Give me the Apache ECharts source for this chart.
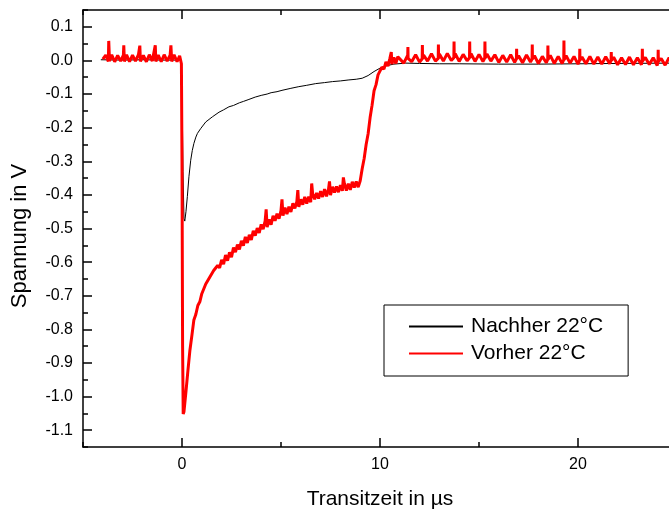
<!DOCTYPE html>
<html>
<head>
<meta charset="utf-8">
<script src="https://cdn.jsdelivr.net/npm/echarts@6/dist/echarts.min.js"></script>
<style>html,body{margin:0;padding:0;background:#fff}#c{width:669px;height:510px}</style>
</head>
<body>
<div id="c"></div>
<script>
const seriesNames = ['Nachher 22°C', 'Vorher 22°C'];
const seriesColors = ['#000000', '#ff0000'];
const xTicks = [0, 10, 20];
const yTicks = [-1.1, -1.0, -0.9, -0.8, -0.7, -0.6, -0.5, -0.4, -0.3, -0.2, -0.1, 0.0, 0.1];

// Nachher 22°C : [t (µs), U (V)]
const nachher = [
  [-4.1,0.002],[-3.0,0.001],[-2.0,0.002],[-1.0,0.001],[-0.05,0.001],[0.0,-0.08],[0.05,-0.33],[0.1,-0.47],[0.14,-0.478],
  [0.2,-0.45],[0.27,-0.405],[0.35,-0.346],[0.44,-0.297],[0.52,-0.268],[0.6,-0.247],[0.7,-0.228],[0.78,-0.217],[0.94,-0.203],
  [1.2,-0.183],[1.53,-0.168],[1.87,-0.154],[2.1,-0.147],[2.37,-0.138],[2.6,-0.134],[2.9,-0.126],[3.1,-0.122],[3.38,-0.116],
  [3.7,-0.109],[4.0,-0.104],[4.3,-0.100],[4.5,-0.096],[4.8,-0.093],[5.05,-0.089],[5.5,-0.083],[5.9,-0.078],[6.3,-0.074],
  [6.75,-0.069],[7.2,-0.066],[7.6,-0.063],[8.0,-0.061],[8.43,-0.058],[8.8,-0.056],[9.1,-0.053],[9.4,-0.045],[9.7,-0.033],
  [10.0,-0.023],[10.3,-0.016],[10.7,-0.011],[11.3,-0.008],[12,-0.009],[13,-0.010],[14,-0.010],[16,-0.011],[18,-0.011],
  [20,-0.010],[22,-0.009],[24.8,-0.008]
];

// Vorher 22°C : [t (µs), U (V)]
const vorher = [
  [-4.0,0.004],[-3.85,0.016],[-3.72,-0.003],[-3.70,0.058],[-3.66,-0.002],[-3.55,0.017],[-3.4,-0.004],[-3.25,0.015],[-3.1,-0.002],
  [-2.96,0.016],[-2.94,0.045],[-2.91,-0.003],[-2.8,0.017],[-2.65,-0.004],[-2.5,0.016],[-2.35,-0.002],[-2.2,0.017],[-2.13,0.044],
  [-2.1,-0.003],[-1.95,0.015],[-1.8,-0.004],[-1.65,0.017],[-1.5,-0.002],[-1.35,0.045],[-1.32,-0.003],[-1.2,0.016],[-1.05,-0.004],
  [-0.9,0.017],[-0.75,-0.002],[-0.6,0.016],[-0.56,0.045],[-0.52,-0.003],[-0.4,0.017],[-0.25,-0.004],[-0.12,0.014],[-0.03,-0.010],
  [0.0,-0.3],[0.03,-0.85],[0.06,-1.052],[0.1,-1.045],[0.2,-0.985],[0.3,-0.922],[0.4,-0.862],[0.5,-0.818],
  [0.6,-0.772],[0.7,-0.755],[0.8,-0.729],[0.9,-0.718],
  [1.0,-0.694],[1.1,-0.691],[1.2,-0.665],[1.3,-0.667],[1.4,-0.645],[1.5,-0.648],[1.6,-0.625],[1.7,-0.630],[1.8,-0.610],[1.9,-0.617],
  [2.0,-0.593],[2.1,-0.606],[2.2,-0.579],[2.3,-0.596],[2.4,-0.571],[2.5,-0.585],[2.6,-0.557],[2.7,-0.570],[2.8,-0.548],[2.9,-0.562],
  [3.0,-0.537],[3.1,-0.551],[3.2,-0.525],[3.3,-0.543],[3.4,-0.519],[3.5,-0.534],[3.6,-0.507],[3.7,-0.521],[3.8,-0.499],[3.9,-0.513],
  [4.0,-0.488],[4.1,-0.502],[4.2,-0.477],[4.25,-0.443],[4.3,-0.496],[4.4,-0.473],[4.5,-0.489],[4.6,-0.462],[4.7,-0.477],[4.8,-0.456],[4.9,-0.471],
  [5.0,-0.447],[5.05,-0.413],[5.1,-0.462],[5.2,-0.438],[5.3,-0.457],[5.4,-0.435],[5.5,-0.451],[5.6,-0.425],[5.7,-0.440],[5.8,-0.420],[5.85,-0.386],[5.9,-0.436],
  [6.0,-0.413],[6.1,-0.429],[6.2,-0.406],[6.3,-0.426],[6.4,-0.405],[6.5,-0.422],[6.55,-0.366],[6.6,-0.397],[6.7,-0.413],[6.8,-0.394],[6.9,-0.411],
  [7.0,-0.389],[7.1,-0.406],[7.2,-0.383],[7.3,-0.404],[7.4,-0.383],[7.45,-0.360],[7.5,-0.401],[7.6,-0.376],[7.7,-0.393],[7.8,-0.375],[7.9,-0.392],
  [8.0,-0.371],[8.1,-0.388],[8.15,-0.348],[8.2,-0.366],[8.3,-0.387],[8.4,-0.367],[8.5,-0.385],[8.6,-0.361],[8.7,-0.378],[8.8,-0.360],[8.9,-0.377],
  [9.0,-0.358],[9.1,-0.322],[9.2,-0.292],[9.3,-0.250],[9.4,-0.218],[9.5,-0.170],[9.6,-0.133],[9.7,-0.090],[9.8,-0.072],[9.9,-0.043],
  [10.0,-0.040],[10.1,-0.020],[10.2,-0.026],[10.3,-0.004],[10.4,-0.017],[10.5,0.006],[10.57,0.025],[10.6,-0.011],[10.7,0.009],[10.8,-0.009],[10.9,0.011],
  [11.0,0.012],[11.2,-0.008],[11.4,0.016],[11.41,0.040],[11.42,0.006],[11.6,-0.004],[11.8,0.017],[12.0,-0.005],
  [12.13,0.005],[12.14,0.046],[12.15,0.005],[12.2,0.016],[12.4,-0.002],[12.6,0.020],[12.8,-0.002],
  [12.94,0.006],[12.95,0.047],[12.96,0.006],[13.0,0.019],[13.2,-0.002],[13.4,0.021],[13.6,0.000],
  [13.73,0.008],[13.74,0.056],[13.75,0.008],[13.8,0.020],[14.0,-0.003],[14.2,0.018],[14.4,-0.001],
  [14.52,0.008],[14.53,0.056],[14.54,0.008],[14.6,0.020],[14.8,-0.003],[15.0,0.018],[15.2,-0.003],
  [15.29,0.007],[15.3,0.056],[15.31,0.007],[15.4,0.019],[15.6,-0.002],[15.8,0.017],[16.0,-0.006],[16.2,0.015],[16.4,-0.005],[16.6,0.017],[16.8,-0.006],
  [16.89,0.005],[16.9,0.035],[16.91,0.005],[17.0,0.014],[17.2,-0.007],[17.4,0.016],[17.6,-0.005],
  [17.68,0.004],[17.69,0.047],[17.7,0.004],[17.8,0.014],[18.0,-0.009],[18.2,0.012],[18.4,-0.007],
  [18.47,0.003],[18.48,0.044],[18.49,0.003],[18.6,0.015],[18.8,-0.009],[19.0,0.012],[19.2,-0.009],
  [19.28,0.002],[19.29,0.059],[19.3,0.002],[19.4,0.014],[19.6,-0.008],[19.8,0.012],[20.0,-0.011],
  [20.08,0.001],[20.09,0.035],[20.1,0.001],[20.2,0.010],[20.4,-0.010],[20.6,0.012],[20.8,-0.011],[21.0,0.010],[21.2,-0.011],[21.4,0.011],[21.6,-0.010],
  [21.67,0.000],[21.68,0.025],[21.69,0.000],[21.8,0.010],[22.0,-0.013],[22.2,0.008],[22.4,-0.012],[22.6,0.010],[22.8,-0.013],[23.0,0.008],[23.2,-0.013],
  [23.24,-0.002],[23.25,0.035],[23.26,-0.002],[23.4,0.009],[23.6,-0.012],[23.8,0.008],[24.0,-0.015],
  [24.04,-0.003],[24.05,0.032],[24.06,-0.003],[24.2,0.006],[24.4,-0.014],[24.6,0.008],[24.8,-0.015]
];

const FONT = '"Liberation Sans", Arial, sans-serif';
const chart = echarts.init(document.getElementById('c'), null, {renderer: 'canvas'});
const axisBase = {
  type: 'value', splitLine: {show: false}, gridIndex: 0
};
const lineCol = {color: '#000', width: 1.5};
chart.setOption({
  animation: false,
  backgroundColor: '#fff',
  textStyle: {fontFamily: FONT, color: '#000'},
  grid: {left: 83, top: 10, width: 594, height: 437, containLabel: false, outerBoundsMode: 'none'},
  xAxis: [
    Object.assign({}, axisBase, {
      min: -5, max: 25, position: 'bottom',
      axisLine: {show: true, onZero: false, lineStyle: lineCol},
      axisTick: {show: true, inside: true, length: 9, customValues: xTicks, lineStyle: lineCol},
      axisLabel: {show: true, customValues: xTicks, fontSize: 16, color: '#000', margin: 10, fontFamily: FONT},
      name: 'Transitzeit in µs', nameLocation: 'middle', nameGap: 42,
      nameTextStyle: {fontSize: 21, color: '#000', fontFamily: FONT}
    }),
    Object.assign({}, axisBase, {
      min: -5, max: 25, interval: 5, position: 'bottom',
      axisLine: {show: false, onZero: false},
      axisTick: {show: true, inside: true, length: 5, lineStyle: lineCol},
      axisLabel: {show: false}
    }),
    Object.assign({}, axisBase, {
      min: -5, max: 25, position: 'top',
      axisLine: {show: true, onZero: false, lineStyle: lineCol},
      axisTick: {show: true, inside: true, length: 9, customValues: xTicks, lineStyle: lineCol},
      axisLabel: {show: false}
    }),
    Object.assign({}, axisBase, {
      min: -5, max: 25, interval: 5, position: 'top',
      axisLine: {show: false, onZero: false},
      axisTick: {show: true, inside: true, length: 5, lineStyle: lineCol},
      axisLabel: {show: false}
    })
  ],
  yAxis: [
    Object.assign({}, axisBase, {
      min: -1.15, max: 0.15, position: 'left',
      axisLine: {show: true, onZero: false, lineStyle: lineCol},
      axisTick: {show: true, inside: true, length: 9, customValues: yTicks, lineStyle: lineCol},
      axisLabel: {show: true, customValues: yTicks, fontSize: 16, color: '#000', margin: 10, fontFamily: FONT,
        formatter: v => (Math.abs(v) < 1e-9 ? 0 : v).toFixed(1)}
    }),
    Object.assign({}, axisBase, {
      min: -1.15, max: 0.15, interval: 0.05, position: 'left',
      axisLine: {show: false, onZero: false},
      axisTick: {show: true, inside: true, length: 5, lineStyle: lineCol},
      axisLabel: {show: false}
    })
  ],
  legend: {
    orient: 'vertical', left: 384, top: 305,
    data: seriesNames,
    icon: 'rect',
    borderColor: '#000', borderWidth: 1, borderRadius: 0,
    padding: [11, 25, 12, 25],
    itemWidth: 54, itemHeight: 2, itemGap: 6,
    itemStyle: {borderWidth: 0},
    textStyle: {fontSize: 21, color: '#000', fontFamily: FONT, lineHeight: 20, padding: [0, 0, 0, 3]}
  },
  graphic: [{
    type: 'text', x: 20, y: 236, rotation: Math.PI / 2,
    style: {text: 'Spannung in V', font: '22px ' + FONT, fill: '#000',
      textAlign: 'center', textVerticalAlign: 'middle', align: 'center', verticalAlign: 'middle'}
  }],
  series: [
    {name: seriesNames[0], type: 'line', data: nachher, symbol: 'none', xAxisIndex: 0, yAxisIndex: 0,
      color: seriesColors[0],
      lineStyle: {color: seriesColors[0], width: 1}, itemStyle: {color: seriesColors[0]}, clip: true},
    {name: seriesNames[1], type: 'line', data: vorher, symbol: 'none', xAxisIndex: 0, yAxisIndex: 0,
      color: seriesColors[1],
      lineStyle: {color: seriesColors[1], width: 3}, itemStyle: {color: seriesColors[1]}, clip: true}
  ]
});
</script>
</body>
</html>
